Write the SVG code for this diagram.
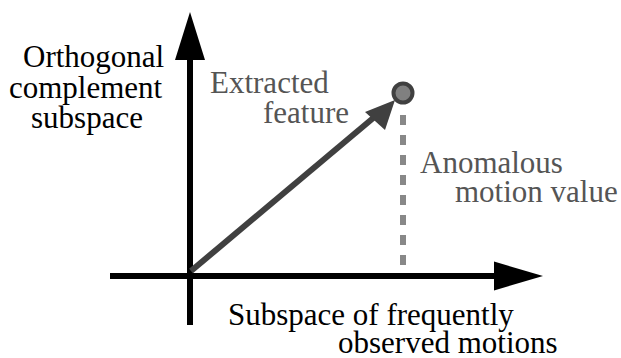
<svg xmlns="http://www.w3.org/2000/svg" width="621" height="358" viewBox="0 0 621 358">
<style>
.k{fill:#000}
.g{fill:#555}
</style>
<rect width="621" height="358" fill="#fff"/>
<g id="connectors">
<line x1="190" y1="325" x2="190" y2="58" stroke="#000" stroke-width="6"/>
<polygon points="190,12 175,60 205,60" fill="#000"/>
<line x1="110" y1="276" x2="496" y2="276" stroke="#000" stroke-width="6"/>
<polygon points="543,276 494,261.5 494,290.5" fill="#000"/>
<line x1="403" y1="115" x2="403" y2="273" stroke="#888" stroke-width="6" stroke-dasharray="10 10"/>
<line x1="191" y1="271" x2="378" y2="114" stroke="#404040" stroke-width="6"/>
<polygon points="395,100 365,112 385,130" fill="#404040"/>
</g>
<g id="point"><circle cx="403" cy="93" r="9.5" fill="#808080" stroke="#404040" stroke-width="4"/></g>
<g font-family="Liberation Serif, DejaVu Serif, serif" font-size="31">
<g id="label-y" class="k"><text x="23" y="67">Orthogonal</text><text x="9" y="98">complement</text><text x="31" y="128">subspace</text></g>
<g id="label-feature" class="g"><text x="210" y="93">Extracted</text><text x="263" y="123">feature</text></g>
<g id="label-anomaly" class="g"><text x="420" y="173">Anomalous</text><text x="455" y="202">motion value</text></g>
<g id="label-x" class="k"><text x="228" y="325">Subspace of frequently</text><text x="338" y="353">observed motions</text></g>
</g>
</svg>
